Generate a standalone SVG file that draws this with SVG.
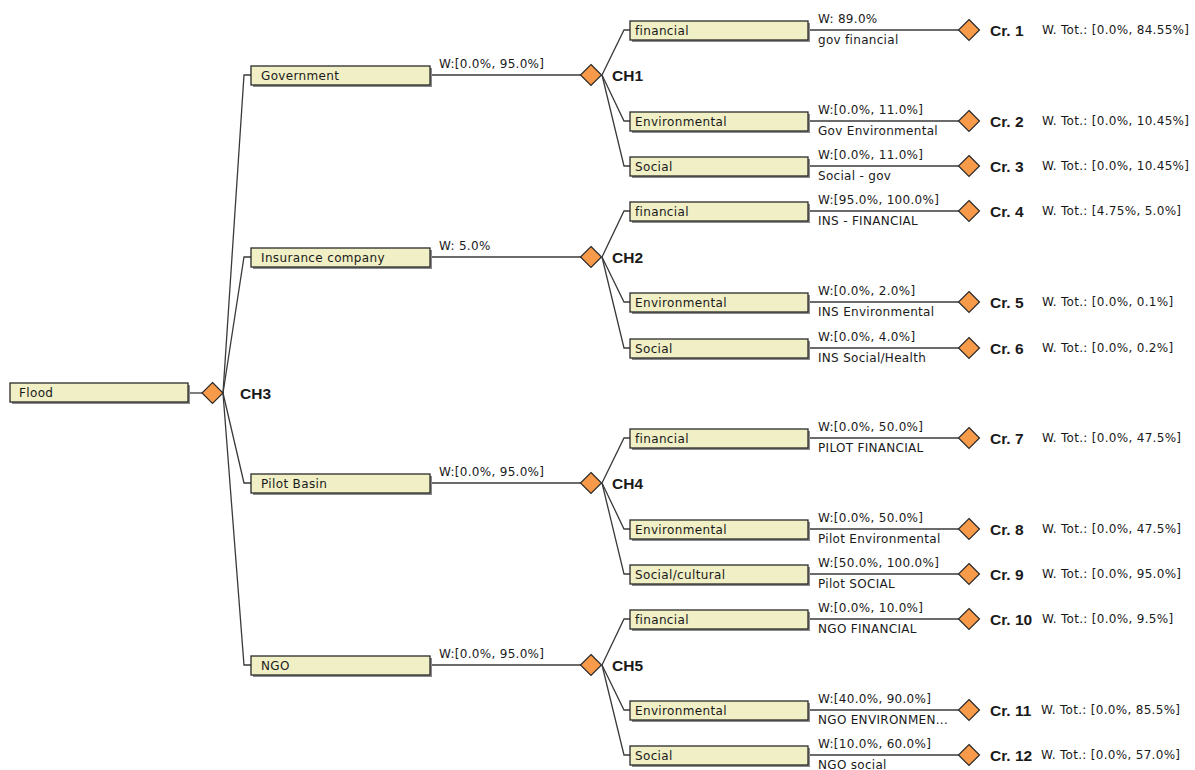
<svg xmlns="http://www.w3.org/2000/svg" width="1195" height="770" viewBox="0 0 1195 770">
<defs>
<style>
.bx{fill:#f0efc6;stroke:#2a2a2a;stroke-width:1.3}
.sh{fill:#8a8a8a}
.dm{fill:#f79a4a;stroke:#2a2a2a;stroke-width:1.2}
.t{font-family:"DejaVu Sans","Liberation Sans",sans-serif;font-size:12px;letter-spacing:0.35px;fill:#1a1a1a}
.w{font-family:"DejaVu Sans","Liberation Sans",sans-serif;font-size:12px;letter-spacing:0.3px;fill:#1a1a1a}
.ch{font-family:"Liberation Sans",Arial,sans-serif;font-size:15.5px;font-weight:bold;fill:#1a1a1a}
.cn line,.cn polyline{stroke:#3a3a3a;stroke-width:1.3;fill:none}
</style>
<path id="d" d="M0,-10.5 L10.5,0 L0,10.5 L-10.5,0 Z"/>
</defs>
<rect width="1195" height="770" fill="#ffffff"/>

<g id="connectors" class="cn">
<line x1="188" y1="393" x2="202" y2="393"/>
<polyline points="223,393 244,75 251,75"/>
<polyline points="223,393 244,257 251,257"/>
<polyline points="223,393 244,483 251,483"/>
<polyline points="223,393 244,665 251,665"/>
<line x1="430" y1="75" x2="581" y2="75"/>
<line x1="430" y1="257" x2="581" y2="257"/>
<line x1="430" y1="483" x2="581" y2="483"/>
<line x1="430" y1="665" x2="581" y2="665"/>
<polyline points="602,75 624,30 630,30"/>
<polyline points="602,75 624,121 630,121"/>
<polyline points="602,75 624,166 630,166"/>
<polyline points="602,257 624,211 630,211"/>
<polyline points="602,257 624,302 630,302"/>
<polyline points="602,257 624,348 630,348"/>
<polyline points="602,483 624,438 630,438"/>
<polyline points="602,483 624,529 630,529"/>
<polyline points="602,483 624,574 630,574"/>
<polyline points="602,665 624,619 630,619"/>
<polyline points="602,665 624,710 630,710"/>
<polyline points="602,665 624,755 630,755"/>
<line x1="808" y1="30" x2="959" y2="30"/>
<line x1="808" y1="121" x2="959" y2="121"/>
<line x1="808" y1="166" x2="959" y2="166"/>
<line x1="808" y1="211" x2="959" y2="211"/>
<line x1="808" y1="302" x2="959" y2="302"/>
<line x1="808" y1="348" x2="959" y2="348"/>
<line x1="808" y1="438" x2="959" y2="438"/>
<line x1="808" y1="529" x2="959" y2="529"/>
<line x1="808" y1="574" x2="959" y2="574"/>
<line x1="808" y1="619" x2="959" y2="619"/>
<line x1="808" y1="710" x2="959" y2="710"/>
<line x1="808" y1="755" x2="959" y2="755"/>
</g>

<g id="connector-labels">
<text class="w" x="439" y="68">W:[0.0%, 95.0%]</text>
<text class="w" x="439" y="250">W: 5.0%</text>
<text class="w" x="439" y="476">W:[0.0%, 95.0%]</text>
<text class="w" x="439" y="658">W:[0.0%, 95.0%]</text>
<text class="w" x="818" y="23">W: 89.0%</text><text class="w" x="818" y="44">gov financial</text>
<text class="w" x="818" y="114">W:[0.0%, 11.0%]</text><text class="w" x="818" y="135">Gov Environmental</text>
<text class="w" x="818" y="159">W:[0.0%, 11.0%]</text><text class="w" x="818" y="180">Social - gov</text>
<text class="w" x="818" y="204">W:[95.0%, 100.0%]</text><text class="w" x="818" y="225">INS - FINANCIAL</text>
<text class="w" x="818" y="295">W:[0.0%, 2.0%]</text><text class="w" x="818" y="316">INS Environmental</text>
<text class="w" x="818" y="341">W:[0.0%, 4.0%]</text><text class="w" x="818" y="362">INS Social/Health</text>
<text class="w" x="818" y="431">W:[0.0%, 50.0%]</text><text class="w" x="818" y="452">PILOT FINANCIAL</text>
<text class="w" x="818" y="522">W:[0.0%, 50.0%]</text><text class="w" x="818" y="543">Pilot Environmental</text>
<text class="w" x="818" y="567">W:[50.0%, 100.0%]</text><text class="w" x="818" y="588">Pilot SOCIAL</text>
<text class="w" x="818" y="612">W:[0.0%, 10.0%]</text><text class="w" x="818" y="633">NGO FINANCIAL</text>
<text class="w" x="818" y="703">W:[40.0%, 90.0%]</text><text class="w" x="818" y="724">NGO ENVIRONMEN...</text>
<text class="w" x="818" y="748">W:[10.0%, 60.0%]</text><text class="w" x="818" y="769">NGO social</text>
</g>

<g id="flood"><rect class="sh" x="12" y="385" width="178" height="19"/><rect class="bx" x="10" y="383" width="178" height="19"/><text class="t" x="19" y="397">Flood</text></g>
<g id="ch3"><use href="#d" class="dm" x="212.5" y="393"/><text class="ch" x="240" y="399">CH3</text></g>

<g id="government"><rect class="sh" x="253" y="68" width="179" height="19"/><rect class="bx" x="251" y="66" width="179" height="19"/><text class="t" x="261" y="80">Government</text></g>
<g id="insurance"><rect class="sh" x="253" y="250" width="179" height="19"/><rect class="bx" x="251" y="248" width="179" height="19"/><text class="t" x="261" y="262">Insurance company</text></g>
<g id="pilot"><rect class="sh" x="253" y="476" width="179" height="19"/><rect class="bx" x="251" y="474" width="179" height="19"/><text class="t" x="261" y="488">Pilot Basin</text></g>
<g id="ngo"><rect class="sh" x="253" y="658" width="179" height="19"/><rect class="bx" x="251" y="656" width="179" height="19"/><text class="t" x="261" y="670">NGO</text></g>

<g id="ch1"><use href="#d" class="dm" x="591" y="75"/><text class="ch" x="612" y="81">CH1</text></g>
<g id="ch2"><use href="#d" class="dm" x="591" y="257"/><text class="ch" x="612" y="263">CH2</text></g>
<g id="ch4"><use href="#d" class="dm" x="591" y="483"/><text class="ch" x="612" y="489">CH4</text></g>
<g id="ch5"><use href="#d" class="dm" x="591" y="665"/><text class="ch" x="612" y="671">CH5</text></g>

<g id="n-gov-fin"><rect class="sh" x="632" y="23" width="178" height="19"/><rect class="bx" x="630" y="21" width="178" height="19"/><text class="t" x="635" y="35">financial</text></g>
<g id="n-gov-env"><rect class="sh" x="632" y="114" width="178" height="19"/><rect class="bx" x="630" y="112" width="178" height="19"/><text class="t" x="635" y="126">Environmental</text></g>
<g id="n-gov-soc"><rect class="sh" x="632" y="159" width="178" height="19"/><rect class="bx" x="630" y="157" width="178" height="19"/><text class="t" x="635" y="171">Social</text></g>
<g id="n-ins-fin"><rect class="sh" x="632" y="204" width="178" height="19"/><rect class="bx" x="630" y="202" width="178" height="19"/><text class="t" x="635" y="216">financial</text></g>
<g id="n-ins-env"><rect class="sh" x="632" y="295" width="178" height="19"/><rect class="bx" x="630" y="293" width="178" height="19"/><text class="t" x="635" y="307">Environmental</text></g>
<g id="n-ins-soc"><rect class="sh" x="632" y="341" width="178" height="19"/><rect class="bx" x="630" y="339" width="178" height="19"/><text class="t" x="635" y="353">Social</text></g>
<g id="n-pil-fin"><rect class="sh" x="632" y="431" width="178" height="19"/><rect class="bx" x="630" y="429" width="178" height="19"/><text class="t" x="635" y="443">financial</text></g>
<g id="n-pil-env"><rect class="sh" x="632" y="522" width="178" height="19"/><rect class="bx" x="630" y="520" width="178" height="19"/><text class="t" x="635" y="534">Environmental</text></g>
<g id="n-pil-soc"><rect class="sh" x="632" y="567" width="178" height="19"/><rect class="bx" x="630" y="565" width="178" height="19"/><text class="t" x="635" y="579">Social/cultural</text></g>
<g id="n-ngo-fin"><rect class="sh" x="632" y="612" width="178" height="19"/><rect class="bx" x="630" y="610" width="178" height="19"/><text class="t" x="635" y="624">financial</text></g>
<g id="n-ngo-env"><rect class="sh" x="632" y="703" width="178" height="19"/><rect class="bx" x="630" y="701" width="178" height="19"/><text class="t" x="635" y="715">Environmental</text></g>
<g id="n-ngo-soc"><rect class="sh" x="632" y="748" width="178" height="19"/><rect class="bx" x="630" y="746" width="178" height="19"/><text class="t" x="635" y="760">Social</text></g>

<g id="cr1"><use href="#d" class="dm" x="969" y="30"/><text class="ch" x="990" y="36">Cr. 1</text><text class="w" x="1042" y="34">W. Tot.: [0.0%, 84.55%]</text></g>
<g id="cr2"><use href="#d" class="dm" x="969" y="121"/><text class="ch" x="990" y="127">Cr. 2</text><text class="w" x="1042" y="125">W. Tot.: [0.0%, 10.45%]</text></g>
<g id="cr3"><use href="#d" class="dm" x="969" y="166"/><text class="ch" x="990" y="172">Cr. 3</text><text class="w" x="1042" y="170">W. Tot.: [0.0%, 10.45%]</text></g>
<g id="cr4"><use href="#d" class="dm" x="969" y="211"/><text class="ch" x="990" y="217">Cr. 4</text><text class="w" x="1042" y="215">W. Tot.: [4.75%, 5.0%]</text></g>
<g id="cr5"><use href="#d" class="dm" x="969" y="302"/><text class="ch" x="990" y="308">Cr. 5</text><text class="w" x="1042" y="306">W. Tot.: [0.0%, 0.1%]</text></g>
<g id="cr6"><use href="#d" class="dm" x="969" y="348"/><text class="ch" x="990" y="354">Cr. 6</text><text class="w" x="1042" y="352">W. Tot.: [0.0%, 0.2%]</text></g>
<g id="cr7"><use href="#d" class="dm" x="969" y="438"/><text class="ch" x="990" y="444">Cr. 7</text><text class="w" x="1042" y="442">W. Tot.: [0.0%, 47.5%]</text></g>
<g id="cr8"><use href="#d" class="dm" x="969" y="529"/><text class="ch" x="990" y="535">Cr. 8</text><text class="w" x="1042" y="533">W. Tot.: [0.0%, 47.5%]</text></g>
<g id="cr9"><use href="#d" class="dm" x="969" y="574"/><text class="ch" x="990" y="580">Cr. 9</text><text class="w" x="1042" y="578">W. Tot.: [0.0%, 95.0%]</text></g>
<g id="cr10"><use href="#d" class="dm" x="969" y="619"/><text class="ch" x="990" y="625">Cr. 10</text><text class="w" x="1042" y="623">W. Tot.: [0.0%, 9.5%]</text></g>
<g id="cr11"><use href="#d" class="dm" x="969" y="710"/><text class="ch" x="990" y="716">Cr. 11</text><text class="w" x="1041" y="714">W. Tot.: [0.0%, 85.5%]</text></g>
<g id="cr12"><use href="#d" class="dm" x="969" y="755"/><text class="ch" x="990" y="761">Cr. 12</text><text class="w" x="1041" y="759">W. Tot.: [0.0%, 57.0%]</text></g>
</svg>
